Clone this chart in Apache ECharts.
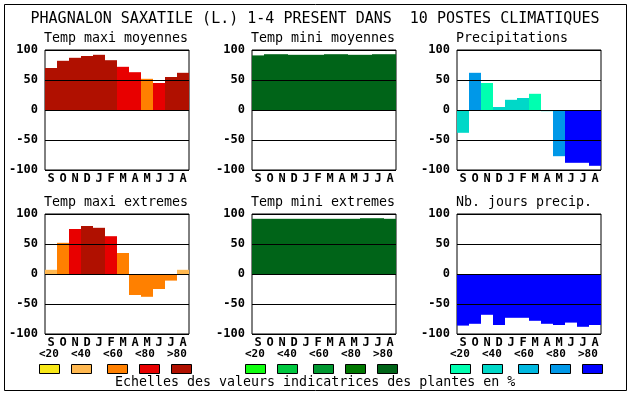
<!DOCTYPE html>
<html><head><meta charset="utf-8">
<script src="https://cdn.jsdelivr.net/npm/echarts@6/dist/echarts.min.js"></script>
<style>html,body{margin:0;padding:0;background:#fff}#c{width:630px;height:394px}</style>
</head><body><div id="c"></div>
<script>
const mainTitle = 'PHAGNALON SAXATILE (L.) 1-4 PRESENT DANS  10 POSTES CLIMATIQUES';
const caption = 'Echelles des valeurs indicatrices des plantes en %';
const months = ['S','O','N','D','J','F','M','A','M','J','J','A'];
const yTicks = [-100, -50, 0, 50, 100];
const classLabels = ['<20', '<40', '<60', '<80', '>80'];
const reds = ['#f8e818', '#ffb850', '#ff8000', '#e80000', '#b01000'];
const greens = ['#10ff10', '#00c840', '#009830', '#007800', '#006418'];
const blues = ['#00ffb0', '#00d8c8', '#00b8e0', '#0098e8', '#0000ff'];

const panelTitles = ['Temp maxi moyennes', 'Temp mini moyennes', 'Precipitations',
                     'Temp maxi extremes', 'Temp mini extremes', 'Nb. jours precip.'];

const tmaxMoy = [70, 82, 87, 90, 92, 83, 72, 63, 52, 45, 55, 62];
const tmaxMoyCls = [4, 4, 4, 4, 4, 4, 3, 3, 2, 3, 4, 4];
const tminMoy = [91, 93, 93, 92, 92, 92, 93, 93, 92, 92, 93, 93];
const tminMoyCls = [4, 4, 4, 4, 4, 4, 4, 4, 4, 4, 4, 4];
const precip = [-38, 62, 45, 5, 17, 20, 27, -2, -77, -88, -88, -93];
const precipCls = [1, 3, 0, 1, 1, 1, 0, 1, 3, 4, 4, 4];
const tmaxExt = [7, 52, 75, 80, 77, 63, 35, -35, -38, -25, -11, 7];
const tmaxExtCls = [1, 2, 3, 4, 4, 3, 2, 2, 2, 2, 2, 1];
const tminExt = [92, 92, 92, 92, 92, 92, 92, 92, 92, 93, 93, 92];
const tminExtCls = [4, 4, 4, 4, 4, 4, 4, 4, 4, 4, 4, 4];
const nbJours = [-86, -83, -68, -85, -73, -73, -78, -83, -85, -81, -88, -85];
const nbJoursCls = [4, 4, 4, 4, 4, 4, 4, 4, 4, 4, 4, 4];

const panels = [
  {vals: tmaxMoy, cls: tmaxMoyCls, pal: reds},
  {vals: tminMoy, cls: tminMoyCls, pal: greens},
  {vals: precip, cls: precipCls, pal: blues},
  {vals: tmaxExt, cls: tmaxExtCls, pal: reds},
  {vals: tminExt, cls: tminExtCls, pal: greens},
  {vals: nbJours, cls: nbJoursCls, pal: blues}
];

const colLeft = [45, 252, 457];
const rowTop = [50, 214];
const PW = 144, PH = 120;
const MONO = '"DejaVu Sans Mono", "Liberation Mono", monospace';

const grids = [], xAxes = [], yAxes = [], series = [], titles = [];
panels.forEach((p, i) => {
  const left = colLeft[i % 3], top = rowTop[Math.floor(i / 3)];
  grids.push({left: left, top: top, width: PW, height: PH, show: true,
    borderColor: '#000', borderWidth: 1, backgroundColor: '#fff', containLabel: false});
  xAxes.push({type: 'category', gridIndex: i, data: months,
    axisLine: {show: false, onZero: false}, axisTick: {show: false},
    axisLabel: {interval: 0, margin: 3, color: '#000', fontFamily: MONO, fontWeight: 'bold', fontSize: 12},
    splitLine: {show: false}});
  yAxes.push({type: 'value', gridIndex: i, min: yTicks[0], max: yTicks[yTicks.length - 1],
    interval: yTicks[1] - yTicks[0], z: 5,
    axisLine: {show: false}, axisTick: {show: false},
    axisLabel: {margin: 7, color: '#000', fontFamily: MONO, fontWeight: 'bold', fontSize: 12},
    splitLine: {show: true, lineStyle: {color: '#000', width: 1}}});
  series.push({type: 'bar', xAxisIndex: i, yAxisIndex: i, barCategoryGap: '0%', barGap: '0%',
    animation: false,
    data: p.vals.map((v, k) => ({value: v, itemStyle: {color: p.pal[p.cls[k]]}}))});
  titles.push({text: panelTitles[i], left: left - 1, top: top - 18,
    textStyle: {fontFamily: MONO, fontWeight: 'normal', fontSize: 13.3, color: '#000'}, padding: 0});
});

titles.push({text: mainTitle, left: 315, top: 12, textAlign: 'center', padding: 0,
  textStyle: {fontFamily: MONO, fontWeight: 'normal', fontSize: 15, color: '#000'}});

const graphic = [{type: 'rect', shape: {x: 4.5, y: 4.5, width: 622, height: 386},
  style: {fill: null, stroke: '#000', lineWidth: 1}, silent: true}];
const groupStart = [39, 245, 450];
const boxOffsets = [0, 32, 68, 100, 132];
[reds, greens, blues].forEach((pal, g) => {
  classLabels.forEach((lab, k) => {
    graphic.push({type: 'text', left: groupStart[g] + k * 32, top: 349,
      style: {text: lab, font: 'bold 11px ' + MONO, fill: '#000'}});
    graphic.push({type: 'rect', shape: {x: groupStart[g] + boxOffsets[k] + 0.5, y: 364.5, width: 20, height: 9},
      style: {fill: pal[k], stroke: '#000', lineWidth: 1}});
  });
});
graphic.push({type: 'text', left: 115, top: 376,
  style: {text: caption, font: '13.3px ' + MONO, fill: '#000'}});

const chart = echarts.init(document.getElementById('c'), null, {renderer: 'canvas'});
chart.setOption({
  animation: false,
  backgroundColor: '#fff',
  title: titles,
  grid: grids, xAxis: xAxes, yAxis: yAxes, series: series,
  graphic: graphic
});
</script></body></html>
